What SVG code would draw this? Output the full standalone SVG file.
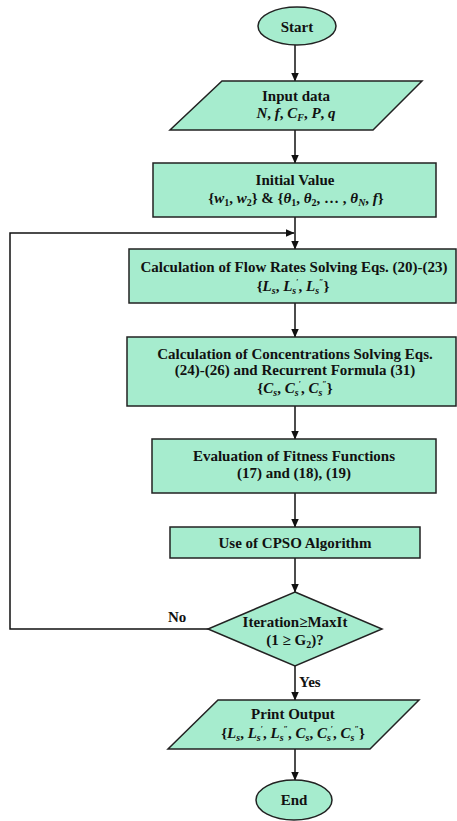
<svg xmlns="http://www.w3.org/2000/svg" width="457" height="821" viewBox="0 0 457 821">
<style>
.box{fill:#a6ecce;stroke:#222;stroke-width:1.5}
.t{font-family:"Liberation Serif","Times New Roman",serif;font-weight:bold;font-size:15px;fill:#111;text-anchor:middle}
.lab{font-family:"Liberation Serif","Times New Roman",serif;font-weight:bold;font-size:15px;fill:#111}
.m{font-style:italic}
.c{fill:none;stroke:#111;stroke-width:1.5}
</style>
<defs>
<marker id="ah" markerUnits="userSpaceOnUse" markerWidth="9" markerHeight="8" refX="8.5" refY="4" orient="auto">
<path d="M0,0 L9,4 L0,8 z" fill="#111"/>
</marker>
</defs>
<rect width="457" height="821" fill="#fff"/>
<g id="connectors">
<line class="c" x1="295" y1="45" x2="295" y2="81" marker-end="url(#ah)"/>
<line class="c" x1="295" y1="130" x2="295" y2="163" marker-end="url(#ah)"/>
<line class="c" x1="295" y1="217" x2="295" y2="249" marker-end="url(#ah)"/>
<polyline class="c" points="208,629 10,629 10,233 294,233" marker-end="url(#ah)"/>
<line class="c" x1="295" y1="303" x2="295" y2="337" marker-end="url(#ah)"/>
<line class="c" x1="295" y1="406" x2="295" y2="439" marker-end="url(#ah)"/>
<line class="c" x1="295" y1="493" x2="295" y2="527" marker-end="url(#ah)"/>
<line class="c" x1="295" y1="558" x2="295" y2="592" marker-end="url(#ah)"/>
<line class="c" x1="295" y1="666" x2="295" y2="700" marker-end="url(#ah)"/>
<line class="c" x1="295" y1="749" x2="295" y2="780" marker-end="url(#ah)"/>
<text class="lab" x="168" y="622">No</text>
<text class="lab" x="299" y="687">Yes</text>
</g>
<g id="start">
<ellipse class="box" cx="297" cy="26" rx="39" ry="19"/>
<text class="t" x="297" y="32">Start</text>
</g>
<g id="input">
<polygon class="box" points="222,81 422,81 373,130 170,130"/>
<text class="t" x="296" y="101">Input data</text>
<text class="t" x="296" y="118"><tspan class="m">N</tspan>, <tspan class="m">f</tspan>, <tspan class="m">C</tspan><tspan class="m" font-size="10" dy="3">F</tspan><tspan dy="-3">, </tspan><tspan class="m">P</tspan>, <tspan class="m">q</tspan></text>
</g>
<g id="initial">
<rect class="box" x="153" y="163" width="283" height="54"/>
<text class="t" x="295" y="185">Initial Value</text>
<text class="t" x="296" y="203">{<tspan class="m">w</tspan><tspan font-size="10" dy="3">1</tspan><tspan dy="-3">, </tspan><tspan class="m">w</tspan><tspan font-size="10" dy="3">2</tspan><tspan dy="-3">} &amp; {</tspan><tspan class="m">θ</tspan><tspan font-size="10" dy="3">1</tspan><tspan dy="-3">, </tspan><tspan class="m">θ</tspan><tspan font-size="10" dy="3">2</tspan><tspan dy="-3">, … , </tspan><tspan class="m">θ</tspan><tspan class="m" font-size="10" dy="3">N</tspan><tspan dy="-3">, </tspan><tspan class="m">f</tspan>}</text>
</g>
<g id="flow">
<rect class="box" x="129" y="249" width="327" height="54"/>
<text class="t" x="294" y="272">Calculation of Flow Rates Solving Eqs. (20)-(23)</text>
<text class="t" x="293" y="291">{<tspan class="m">L</tspan><tspan class="m" font-size="10" dy="3">s</tspan><tspan dy="-3">, </tspan><tspan class="m">L</tspan><tspan class="m" font-size="10" dy="3">s</tspan><tspan font-size="8" dy="-9">′</tspan><tspan dy="6">, </tspan><tspan class="m">L</tspan><tspan class="m" font-size="10" dy="3">s</tspan><tspan font-size="8" dy="-9">″</tspan><tspan dy="6">}</tspan></text>
</g>
<g id="conc">
<rect class="box" x="127" y="337" width="329" height="69"/>
<text class="t" x="295" y="359">Calculation of Concentrations Solving Eqs.</text>
<text class="t" x="295" y="375">(24)-(26) and Recurrent Formula (31)</text>
<text class="t" x="295" y="393">{<tspan class="m">C</tspan><tspan class="m" font-size="10" dy="3">s</tspan><tspan dy="-3">, </tspan><tspan class="m">C</tspan><tspan class="m" font-size="10" dy="3">s</tspan><tspan font-size="8" dy="-9">′</tspan><tspan dy="6">, </tspan><tspan class="m">C</tspan><tspan class="m" font-size="10" dy="3">s</tspan><tspan font-size="8" dy="-9">″</tspan><tspan dy="6">}</tspan></text>
</g>
<g id="eval">
<rect class="box" x="152" y="439" width="284" height="54"/>
<text class="t" x="294" y="461">Evaluation of Fitness Functions</text>
<text class="t" x="294" y="478">(17) and (18), (19)</text>
</g>
<g id="cpso">
<rect class="box" x="170" y="527" width="250" height="31"/>
<text class="t" x="295" y="548">Use of CPSO Algorithm</text>
</g>
<g id="decision">
<polygon class="box" points="295,592 382,629 295,666 208,629"/>
<text class="t" x="295" y="627">Iteration≥MaxIt</text>
<text class="t" x="295" y="645">(1 ≥ G<tspan font-size="10" dy="3">2</tspan><tspan dy="-3">)?</tspan></text>
</g>
<g id="print">
<polygon class="box" points="218,700 419,700 370,749 168,749"/>
<text class="t" x="293" y="719">Print Output</text>
<text class="t" x="293" y="738">{<tspan class="m">L</tspan><tspan class="m" font-size="10" dy="3">s</tspan><tspan dy="-3">, </tspan><tspan class="m">L</tspan><tspan class="m" font-size="10" dy="3">s</tspan><tspan font-size="8" dy="-9">′</tspan><tspan dy="6">, </tspan><tspan class="m">L</tspan><tspan class="m" font-size="10" dy="3">s</tspan><tspan font-size="8" dy="-9">″</tspan><tspan dy="6">, </tspan><tspan class="m">C</tspan><tspan class="m" font-size="10" dy="3">s</tspan><tspan dy="-3">, </tspan><tspan class="m">C</tspan><tspan class="m" font-size="10" dy="3">s</tspan><tspan font-size="8" dy="-9">′</tspan><tspan dy="6">, </tspan><tspan class="m">C</tspan><tspan class="m" font-size="10" dy="3">s</tspan><tspan font-size="8" dy="-9">″</tspan><tspan dy="6">}</tspan></text>
</g>
<g id="end">
<ellipse class="box" cx="294" cy="800" rx="38" ry="20"/>
<text class="t" x="294" y="805">End</text>
</g>
</svg>
